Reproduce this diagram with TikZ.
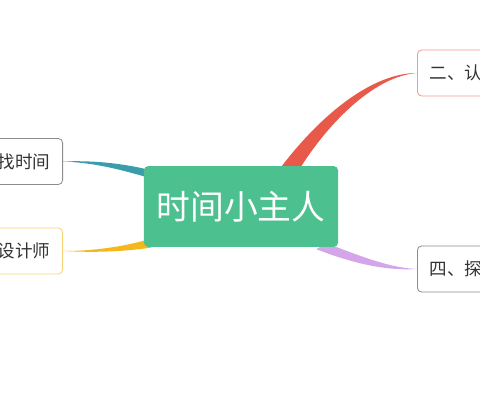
\documentclass[tikz,border=0pt]{standalone}
\usepackage{fontspec}
\setmainfont{Noto Sans CJK SC}
\usetikzlibrary{calc,backgrounds}

\definecolor{rootgreen}{HTML}{4CC08E}
\definecolor{branchred}{HTML}{E8594A}
\definecolor{branchteal}{HTML}{3A9EAA}
\definecolor{branchyellow}{HTML}{F5B81C}
\definecolor{branchpurple}{HTML}{D4A5E8}
\definecolor{textgray}{HTML}{333333}

\begin{document}
\begin{tikzpicture}[x=0.025cm, y=-0.025cm,
	every node/.style={font=\fontsize{12.5pt}{14pt}\selectfont, text=textgray},
	topic/.style={draw, rounded corners=3pt, fill=white, line width=0.6pt,
		minimum height=1.15cm, text width=2.6cm, inner xsep=0.3cm},
	leftbox/.style={topic, anchor=east, align=right},
	rightbox/.style={topic, anchor=west, align=left}]
	\useasboundingbox (0,0) rectangle (480,400);
	\node[fill=rootgreen, rounded corners=3pt, minimum width=4.85cm, minimum height=2.02cm,
		text=white, font=\fontsize{24pt}{27pt}\selectfont] (root) at (241,206.5) {时间小主人};
	\node[leftbox, draw=gray!90] (find) at (63,161.5) {找时间};
	\node[leftbox, draw=branchyellow!60] (design) at (63,251) {设计师};
	\node[rightbox, draw=branchred!60] (know) at (417,73) {二、认};
	\node[rightbox, draw=gray!90] (explore) at (417,269) {四、探};
	\begin{scope}[on background layer]
		\fill[branchred] ($(root.north)+(38,4)$) .. controls (320,115) and (372,73) .. (know.west)
			.. controls (376,76) and (330,120) .. ($(root.north)+(58,4)$) -- cycle;
		\fill[branchteal] (find.east) .. controls (100,160) and (130,165) .. ($(root.west)+(8,-36)$)
			-- ($(root.west)+(8,-28)$) .. controls (128,172) and (100,163) .. (find.east) -- cycle;
		\fill[branchyellow] (design.east) .. controls (100,251) and (130,245) .. ($(root.west)+(8,32)$)
			-- ($(root.west)+(8,41)$) .. controls (128,251) and (100,253) .. (design.east) -- cycle;
		\fill[branchpurple] ($(root.south east)+(-12,-4)$) .. controls (360,256) and (390,268) .. (explore.west)
			.. controls (385,271) and (352,263) .. ($(root.south east)+(-22,2)$) -- cycle;
	\end{scope}
\end{tikzpicture}
\end{document}
